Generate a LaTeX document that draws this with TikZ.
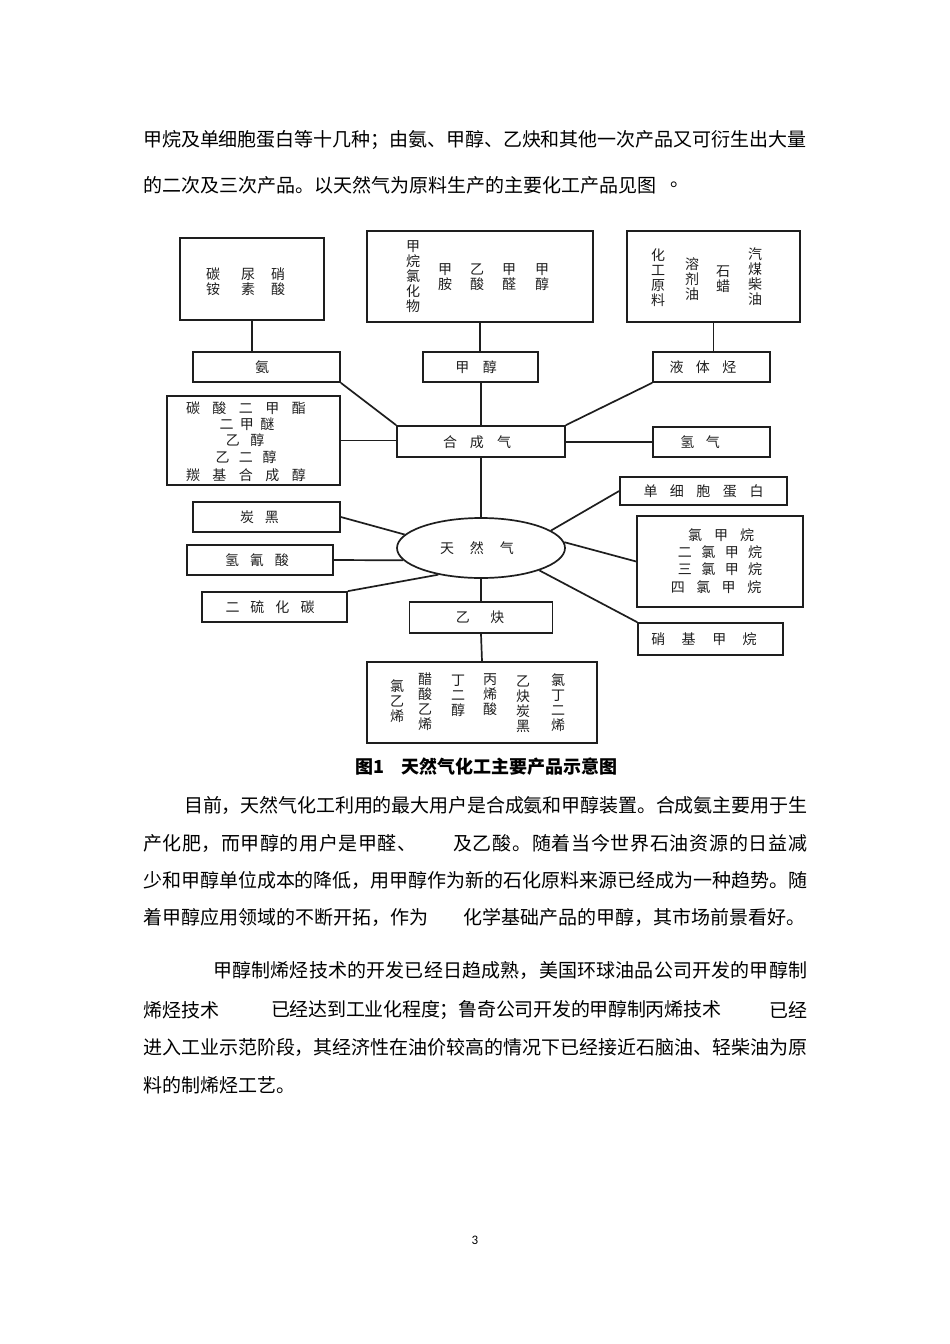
\documentclass[tikz,border=0pt]{standalone}
\usepackage{fontspec}
\usetikzlibrary{shapes.geometric}
\setmainfont{Noto Sans CJK SC}
\newfontfamily\pnfont{Carlito}
\makeatletter
\def\sepglue{}
\def\spc#1{#1\spc@}
\def\spc@#1{\ifx#1\relax\else\sepglue#1\expandafter\spc@\fi}
\def\jline#1#2{\hbox to #1{\def\sepglue{\hskip 0pt plus 1fill minus 1fill}\spc#2\relax}}
\def\sprow#1#2{\hbox{\def\sepglue{\hskip#1}\spc#2\relax}}
\newdimen\vcgap \vcgap=15pt
\def\vcol#1{\vbox{\baselineskip=\vcgap\lineskiplimit=-\maxdimen\lineskip=0pt\vc@#1\relax}}
\def\vc@#1{\ifx#1\relax\else\hbox to 1em{\hss#1\hss}\expandafter\vc@\fi}
\makeatother
\definecolor{linec}{HTML}{1E1E1E}
\definecolor{dtext}{HTML}{1F1F1F}
\begin{document}
\begin{tikzpicture}[x=1pt,y=-1pt,
  txt/.style={inner sep=0pt, anchor=west, font=\fontsize{19}{19}\selectfont, text=black},
  bx/.style={draw=linec, line width=1.7pt, inner sep=0pt},
  dt/.style={inner sep=0pt, text=dtext, font=\fontsize{14}{14}\selectfont},
  cn/.style={draw=linec, line width=1.7pt}]
\fill[white] (0,0) rectangle (950,1344);
\useasboundingbox (0,0) rectangle (950,1344);

% ---------- body text, paragraph 1 ----------
\node[txt] (p1a) at (143,140) {\jline{663pt}{甲烷及单细胞蛋白等十几种；由氨、甲醇、乙炔和其他一次产品又可衍生出大量}};
\node[txt] (p1b) at (143,185) {的二次及三次产品。以天然气为原料生产的主要化工产品见图};
\node[txt] (p1c) at (670,185) {。};

% ---------- diagram boxes ----------
\node[bx, minimum width=144pt, minimum height=82pt] (bTL) at (252,279) {};
\node[bx, minimum width=226pt, minimum height=91pt] (bTC) at (480,276.5) {};
\node[bx, minimum width=173pt, minimum height=91pt] (bTR) at (713.5,276.5) {};
\node[bx, minimum width=147pt, minimum height=30pt] (bNH) at (266.5,367) {};
\node[bx, minimum width=115pt, minimum height=30pt] (bMe) at (480.5,367) {};
\node[bx, minimum width=117pt, minimum height=30pt] (bLq) at (711.5,367) {};
\node[bx, minimum width=168pt, minimum height=31pt] (bSy) at (481,441.5) {};
\node[bx, minimum width=117pt, minimum height=30pt] (bH) at (711.5,442) {};
\node[bx, minimum width=173pt, minimum height=89pt] (bL) at (253.5,440.5) {};
\node[bx, minimum width=167pt, minimum height=28pt] (bSC) at (703.5,491) {};
\node[bx, minimum width=166pt, minimum height=91pt] (bCl) at (720,561.5) {};
\node[bx, minimum width=145pt, minimum height=32pt] (bNi) at (710.5,639) {};
\node[draw=linec, line width=1.7pt, ellipse, inner sep=0pt, minimum width=168pt, minimum height=60pt] (NG) at (481,548) {};
\node[bx, minimum width=147pt, minimum height=30pt] (bC) at (266.5,517) {};
\node[bx, minimum width=146pt, minimum height=30pt] (bHC) at (260,560) {};
\node[bx, minimum width=145pt, minimum height=30pt] (bCS) at (274.5,607) {};
\node[bx, minimum width=143pt, minimum height=31pt] (bAc) at (481,617.5) {};
\node[bx, minimum width=230pt, minimum height=81pt] (bB) at (482,702.5) {};

% ---------- connectors ----------
\draw[cn] (bTL.south) -- (bTL.south |- bNH.north);
\draw[cn] (bNH.south east) -- (bSy.north west);
\draw[cn] (bL.east) -- (bL.east -| bSy.west);
\draw[cn] (bTC.south) -- (bTC.south |- bMe.north);
\draw[cn] (bMe.south -| bSy.north) -- (bSy.north);
\draw[cn] (bTR.south) -- (bTR.south |- bLq.north);
\draw[cn] (bLq.south west) -- (bSy.north east);
\draw[cn] (bSy.east |- bH.west) -- (bH.west);
\draw[cn] (bSy.south) -- (NG.north);
\draw[cn] (NG.14) -- (bSC.west);
\draw[cn] (NG.4) -- (bCl.west);
\draw[cn] (NG.-21) -- (bNi.north west);
\draw[cn] (bC.east) -- (NG.170);
\draw[cn] (bHC.east) -- (NG.189);
\draw[cn] (bCS.north east) -- (NG.212);
\draw[cn] (NG.south) -- (bAc.north);
\draw[cn] (bAc.south) -- (bB.north);

% ---------- diagram texts ----------
% top-left box
\node[dt] (t1) at (213,282) {\vcol{碳铵}};
\node[dt] (t2) at (248,282) {\vcol{尿素}};
\node[dt] (t3) at (278,282) {\vcol{硝酸}};
% top-centre box
\node[dt] (t4) at (413,277) {\vcol{甲烷氯化物}};
\node[dt] (t5) at (445,277) {\vcol{甲胺}};
\node[dt] (t6) at (477,277) {\vcol{乙酸}};
\node[dt] (t7) at (509,277) {\vcol{甲醛}};
\node[dt] (t8) at (542,277) {\vcol{甲醇}};
% top-right box
\node[dt] (t9) at (658,278) {\vcol{化工原料}};
\node[dt] (t10) at (692,279) {\vcol{溶剂油}};
\node[dt] (t11) at (723,279) {\vcol{石蜡}};
\node[dt] (t12) at (755,277) {\vcol{汽煤柴油}};
% single-row boxes
\node[dt] (t13) at (262,367) {氨};
\node[dt] (t14) at (476,367) {\sprow{13.5pt}{甲醇}};
\node[dt] (t15) at (703,367) {\sprow{12.5pt}{液体烃}};
\node[dt] (t16) at (477,442) {\sprow{13pt}{合成气}};
\node[dt] (t17) at (700,442) {\sprow{11.5pt}{氢气}};
% left products box
\node[dt] (t18) at (246,408) {\sprow{12.5pt}{碳酸二甲酯}};
\node[dt] (t19) at (247,424) {\sprow{6.5pt}{二甲醚}};
\node[dt] (t20) at (245,440) {\sprow{10.5pt}{乙醇}};
\node[dt] (t21) at (246,457) {\sprow{9.5pt}{乙二醇}};
\node[dt] (t22) at (246,475) {\sprow{12.5pt}{羰基合成醇}};
% right side
\node[dt] (t23) at (703.5,491) {\sprow{12.5pt}{单细胞蛋白}};
\node[dt] (t24) at (721,535) {\sprow{12pt}{氯甲烷}};
\node[dt] (t25) at (720,552) {\sprow{9.5pt}{二氯甲烷}};
\node[dt] (t26) at (720,569) {\sprow{9.5pt}{三氯甲烷}};
\node[dt] (t27) at (716,587) {\sprow{11.5pt}{四氯甲烷}};
\node[dt] (t28) at (704,639) {\sprow{16.5pt}{硝基甲烷}};
% left side
\node[dt] (t29) at (259.5,517) {\sprow{11pt}{炭黑}};
\node[dt] (t30) at (257,560) {\sprow{11pt}{氢氰酸}};
\node[dt] (t31) at (270,607) {\sprow{11pt}{二硫化碳}};
% natural gas, acetylene
\node[dt] (t32) at (477,548) {\sprow{16pt}{天然气}};
\node[dt] (t33) at (480,617.5) {\sprow{20.5pt}{乙炔}};
% bottom box
\node[dt] (t34) at (397,701) {\vcol{氯乙烯}};
\node[dt] (t35) at (425,702) {\vcol{醋酸乙烯}};
\node[dt] (t36) at (458,696) {\vcol{丁二醇}};
\node[dt] (t37) at (490,695) {\vcol{丙烯酸}};
\node[dt] (t38) at (523,704) {\vcol{乙炔炭黑}};
\node[dt] (t39) at (558,703) {\vcol{氯丁二烯}};

% ---------- caption ----------
\node[inner sep=0pt, anchor=west, font=\fontsize{18}{18}\selectfont\bfseries] (cap) at (355,767) {图1\hspace{17pt}天然气化工主要产品示意图};

% ---------- paragraph 2 ----------
\node[txt] (p2a) at (184,805) {\jline{623pt}{目前，天然气化工利用的最大用户是合成氨和甲醇装置。合成氨主要用于生}};
\node[txt] (p2b) at (143,843) {\jline{273pt}{产化肥，而甲醇的用户是甲醛、}};
\node[txt] (p2c) at (453,843) {\jline{354pt}{及乙酸。随着当今世界石油资源的日益减}};
\node[txt] (p2d) at (143,880) {\jline{664pt}{少和甲醇单位成本的降低，用甲醇作为新的石化原料来源已经成为一种趋势。随}};
\node[txt] (p2e) at (143,917) {着甲醇应用领域的不断开拓，作为};
\node[txt] (p2f) at (463,917) {化学基础产品的甲醇，其市场前景看好。};

% ---------- paragraph 3 ----------
\node[txt] (p3a) at (213,970) {\jline{594pt}{甲醇制烯烃技术的开发已经日趋成熟，美国环球油品公司开发的甲醇制}};
\node[txt] (p3b) at (143,1010) {烯烃技术};
\node[txt] (p3c) at (271,1010) {\jline{450pt}{已经达到工业化程度；鲁奇公司开发的甲醇制丙烯技术}};
\node[txt] (p3d) at (769,1010) {已经};
\node[txt] (p3e) at (143,1047) {\jline{664pt}{进入工业示范阶段，其经济性在油价较高的情况下已经接近石脑油、轻柴油为原}};
\node[txt] (p3f) at (143,1085) {料的制烯烃工艺。};

% ---------- page number ----------
\node[inner sep=0pt, font=\pnfont\fontsize{13}{13}\selectfont] (pn) at (475,1240) {3};
\end{tikzpicture}
\end{document}
